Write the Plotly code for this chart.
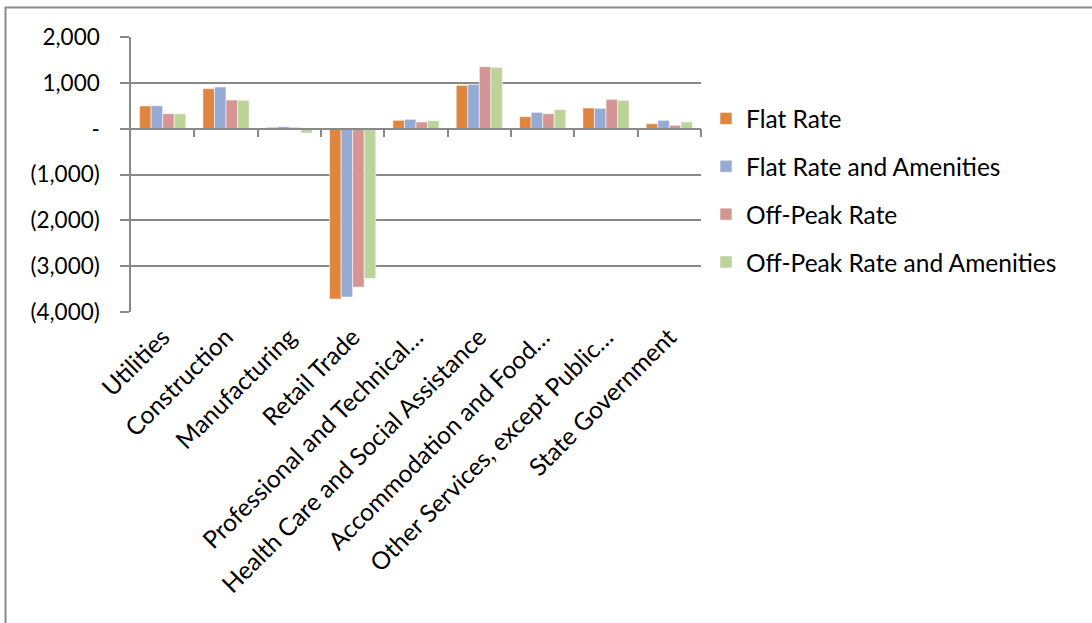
import plotly.graph_objects as go

# Employment change by industry under four pricing scenarios
categories = [
    "Utilities",
    "Construction",
    "Manufacturing",
    "Retail Trade",
    "Professional and Technical…",
    "Health Care and Social Assistance",
    "Accommodation and Food…",
    "Other Services, except Public…",
    "State Government",
]

flat_rate = [495, 873, 29, -3717, 182, 945, 262, 451, 109]
flat_rate_amenities = [500, 909, 44, -3674, 204, 967, 356, 444, 182]
off_peak_rate = [327, 625, 29, -3457, 145, 1353, 327, 640, 73]
off_peak_rate_amenities = [327, 618, -95, -3268, 175, 1338, 415, 618, 145]

series_names = ["Flat Rate", "Flat Rate and Amenities", "Off-Peak Rate", "Off-Peak Rate and Amenities"]
series_values = [flat_rate, flat_rate_amenities, off_peak_rate, off_peak_rate_amenities]
series_colors = ["#E0853F", "#95ABD5", "#D59594", "#BBD49A"]

y_tick_values = [2000, 1000, 0, -1000, -2000, -3000, -4000]
y_tick_labels = ["2,000", "1,000", "-", "(1,000)", "(2,000)", "(3,000)", "(4,000)"]

FONT = "Lato"
GRID = "#898989"

W, H = 1092, 623
ML, MR, MT, MB = 131, 391, 37, 311
PW, PH = W - ML - MR, H - MT - MB

fig = go.Figure()
for name, vals, col in zip(series_names, series_values, series_colors):
    fig.add_trace(go.Bar(
        x=categories, y=vals, name=name, legendgroup=name,
        marker=dict(color=col, line=dict(color="rgba(255,255,255,0.55)", width=1)),
    ))

# axis at zero carrying the category boundary ticks
fig.add_trace(go.Scatter(x=[], y=[], xaxis="x2", showlegend=False))


def px_x(px):
    return (px - ML) / PW


def px_y(py):
    return (H - MB - py) / PH


fig.update_layout(
    width=W, height=H,
    margin=dict(l=ML, r=MR, t=MT, b=MB, pad=0),
    paper_bgcolor="white", plot_bgcolor="white",
    font=dict(family=FONT, size=24, color="black"),
    barmode="group", bargap=0.27, bargroupgap=0,
    xaxis=dict(
        type="category", showline=False, ticks="", showgrid=False,
        tickangle=-45, tickfont=dict(family=FONT, size=24.5),
        ticklabelstandoff=5, zeroline=False,
    ),
    xaxis2=dict(
        overlaying="x", anchor="free", position=4000 / 6000, side="bottom",
        range=[-0.5, len(categories) - 0.5],
        tickvals=[i + 0.5 for i in range(len(categories))],
        showticklabels=False, ticks="outside", ticklen=8, tickwidth=1.5,
        tickcolor=GRID, showline=True, linecolor=GRID, linewidth=1.5,
        showgrid=False, zeroline=False,
    ),
    yaxis=dict(
        range=[-4000, 2000], tickvals=y_tick_values, ticktext=y_tick_labels,
        showgrid=True, gridcolor=GRID, gridwidth=1.5,
        showline=True, linecolor=GRID, linewidth=1.5,
        ticks="outside", ticklen=9, tickwidth=1.5, tickcolor=GRID,
        ticklabelstandoff=16, zeroline=False,
        tickfont=dict(family=FONT, size=22.5),
    ),
    legend=dict(
        x=px_x(706), y=px_y(96), xanchor="left", yanchor="top",
        traceorder="grouped", tracegroupgap=13,
        font=dict(family=FONT, size=24.5), bgcolor="rgba(0,0,0,0)",
    ),
    shapes=[dict(
        type="rect", xref="paper", yref="paper",
        x0=px_x(5.5), x1=px_x(W + 20), y0=px_y(H + 20), y1=px_y(7.5),
        line=dict(color="#8A8A8A", width=2), fillcolor="rgba(0,0,0,0)",
        layer="below",
    )],
)

fig.write_html("out.html")
